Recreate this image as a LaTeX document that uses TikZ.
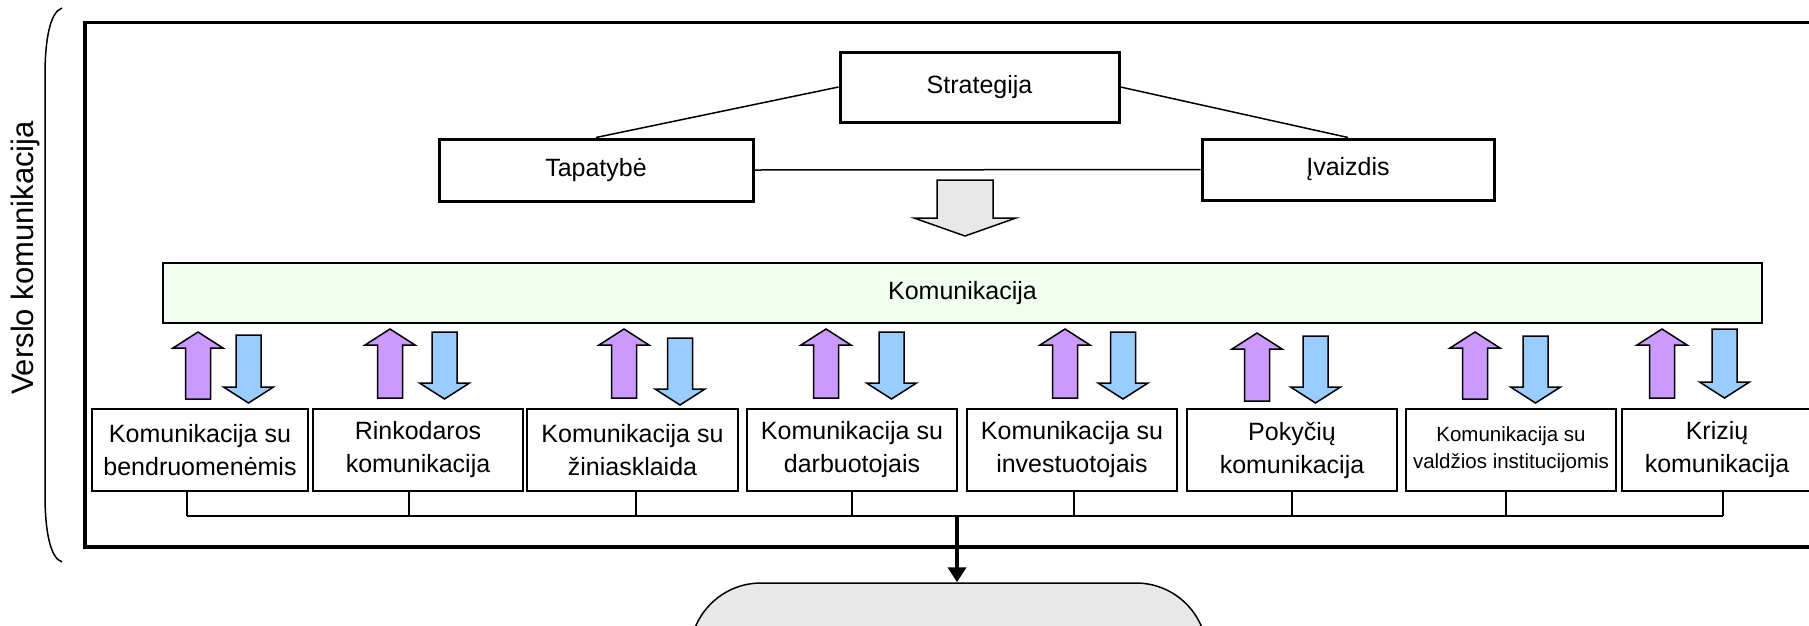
\documentclass[tikz,border=0pt]{standalone}
\usepackage{fontspec}
\setmainfont{Liberation Sans}
\usetikzlibrary{arrows.meta,calc}
\definecolor{purp}{HTML}{CC99FF}
\definecolor{blu}{HTML}{99CCFF}
\definecolor{grn}{HTML}{EFFEEF}
\definecolor{gry}{HTML}{E8E8E8}
\newcommand{\PArrow}[3]{%
  \filldraw[fill=purp,arrowshape] (#1-12.5,#3) -- (#1-12.5,#2+16) -- (#1-25,#2+16) -- (#1,#2) -- (#1+25,#2+16) -- (#1+12.5,#2+16) -- (#1+12.5,#3) -- cycle;}
\newcommand{\BArrow}[3]{%
  \filldraw[fill=blu,arrowshape] (#1-12.5,#2) -- (#1-12.5,#3-16) -- (#1-25,#3-16) -- (#1,#3) -- (#1+25,#3-16) -- (#1+12.5,#3-16) -- (#1+12.5,#2) -- cycle;}
\tikzset{
  arrowshape/.style={draw=black,line width=1.5pt,line join=miter},
  topbox/.style={draw=black,line width=3pt,fill=white,inner sep=0pt,font=\fontsize{25}{30}\selectfont},
  botbox/.style={draw=black,line width=1.5pt,fill=white,inner sep=0pt,minimum height=82pt,align=center,font=\fontsize{25}{33}\selectfont},
  conn/.style={draw=black,line width=1.5pt},
}
\begin{document}
\begin{tikzpicture}[x=1pt,y=-1pt]
\useasboundingbox (0,0) rectangle (1809,625);
% outer frame
\draw[line width=3.5pt] (85,22.7) rectangle (1840,547);
% brace
\draw[line width=1.5pt] (62,8) .. controls (50,12) and (45,40) .. (45,75) -- (45,495) .. controls (45,530) and (50,558) .. (62,562);
\node[rotate=90,font=\fontsize{31}{35}\selectfont] (vk) at (25,258) {Verslo komunikacija};
% top boxes
\node[topbox,minimum width=279pt,minimum height=70pt] (strat) at (979.5,87) {Strategija};
\node[topbox,minimum width=314pt,minimum height=62pt] (tap) at (596,170) {Tapatybė};
\node[topbox,minimum width=292pt,minimum height=61pt] (ivz) at (1348,169.5) {Įvaizdis};
\draw[conn] (strat.west) -- (tap.north);
\draw[conn] (strat.east) -- (ivz.north);
\draw[conn] (tap.east) -- (ivz.west);
% gray arrow
\filldraw[fill=gry,arrowshape] (937,180) -- (937,218) -- (914,218) -- (965,236) -- (1016,218) -- (993,218) -- (993,180) -- cycle;
% komunikacija bar
\node[draw=black,line width=1.5pt,fill=grn,minimum width=1599pt,minimum height=60pt,inner sep=0pt,font=\fontsize{25}{30}\selectfont] (kom) at (962.5,293) {Komunikacija};
% bottom boxes
\node[botbox,minimum width=216pt] (b1) at (200,450) {Komunikacija su\\bendruomenėmis};
\node[botbox,minimum width=210pt] (b2) at (418,450) {Rinkodaros\\komunikacija};
\node[botbox,minimum width=211pt] (b3) at (632.5,450) {Komunikacija su\\žiniasklaida};
\node[botbox,minimum width=210pt] (b4) at (852,450) {Komunikacija su\\darbuotojais};
\node[botbox,minimum width=210pt] (b5) at (1072,450) {Komunikacija su\\investuotojais};
\node[botbox,minimum width=210pt] (b6) at (1292,450) {Pokyčių\\komunikacija};
\node[botbox,minimum width=210pt,font=\fontsize{20.5}{27}\selectfont] (b7) at (1511,450) {Komunikacija su\\valdžios institucijomis};
\node[botbox,minimum width=190pt] (b8) at (1717,450) {Krizių\\komunikacija};
% arrows
\PArrow{198}{332}{399}  \BArrow{248.5}{335}{403}
\PArrow{390}{329}{398}  \BArrow{444.5}{332}{399}
\PArrow{624}{329}{398}  \BArrow{680}{338}{405}
\PArrow{826}{329}{398}  \BArrow{891.5}{332}{399}
\PArrow{1065}{329}{398} \BArrow{1123}{332}{399}
\PArrow{1257}{333}{401} \BArrow{1315.5}{336}{403}
\PArrow{1475}{332}{399} \BArrow{1535.5}{336}{403}
\PArrow{1662}{329}{398} \BArrow{1724.5}{329}{398}
% bus
\coordinate (s1) at (187,516);
\coordinate (s2) at (409,516);
\coordinate (s3) at (636,516);
\coordinate (s4) at (852,516);
\coordinate (s5) at (1074,516);
\coordinate (s6) at (1292,516);
\coordinate (s7) at (1506,516);
\coordinate (s8) at (1723,516);
\coordinate (sm) at (957,516);
\draw[conn] (s1) -- (s8);
\foreach \i in {1,...,8} {\draw[conn] (b\i.south -| s\i) -- (s\i);}
% result box
\node[draw=black,line width=1.5pt,fill=gry,rounded corners=71pt,minimum width=517pt,minimum height=117pt,inner sep=0pt] (rb) at (948.5,641.5) {};
\draw[line width=4pt,-{Triangle[length=15pt,width=18pt]}] (sm) -- (rb.north -| sm);
\end{tikzpicture}
\end{document}
